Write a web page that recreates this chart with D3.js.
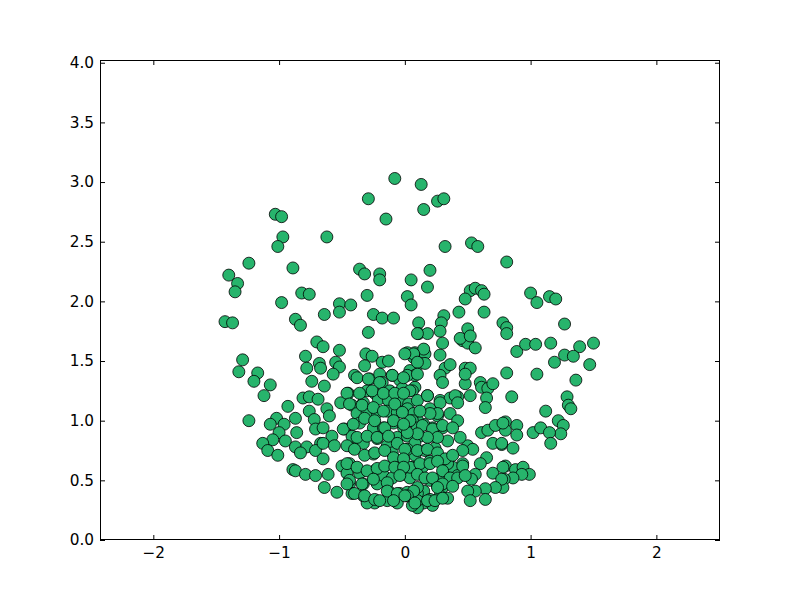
<!DOCTYPE html>
<html>
<head>
<meta charset="utf-8">
<script src="https://cdn.jsdelivr.net/npm/d3@7"></script>
<style>
  html, body { margin: 0; padding: 0; background: #ffffff; }
  svg { display: block; }
</style>
</head>
<body>
<div id="chart"></div>
<script>
// scatter values (x, y pairs by index)
const xs = [
  -0.08, 0.13, -0.29, 0.26, 0.31, 0.15, -0.15, -1.03, -0.98, -0.97,
  -1.01, -0.62, 0.32, 0.53, 0.58, 0.81, -1.24, -1.40, -1.33, -1.35,
  -0.89, -0.36, -0.32, -0.20, -0.20, 0.05, 0.20, 0.18, -0.82, -0.76,
  -0.98, -0.52, -0.52, -0.43, -0.30, 0.02, 0.05, -0.64, -0.87, -0.83,
  -1.43, -1.37, -0.25, -0.18, -0.09, -0.29, 0.52, 0.56, 0.61, 0.63,
  0.48, 0.43, 0.63, 1.00, 1.05, 1.15, 1.20, 1.27, 0.31, 0.29,
  0.11, 0.50, 0.78, 0.81, 0.81, 0.89, 0.96, 1.04, 1.16, 1.39,
  1.50, 1.27, 1.34, 1.19, 1.47, 0.81, 1.05, 1.36, 0.85, 1.29,
  1.30, 1.32, 1.12, 1.22, 1.26, 1.24, 0.80, 0.80, 0.89, 0.89,
  1.02, 1.08, 1.15, 1.16, 0.77, 0.86, 0.80, 0.88, 0.94, 0.99,
  0.93, 0.86, 0.79, 0.78,
  0.11, 0.18, 0.28, 0.30, 0.28, 0.46, 0.50, 0.56, 0.44, 0.52,
  0.08, 0.16, 0.15, 0.12, 0.16, 0.07, 0.32, 0.36, 0.28, 0.30,
  0.48, 0.52, 0.48, 0.52, 0.60, 0.61, 0.66, 0.70, 0.65, 0.64,
  0.08, 0.06, 0.18, 0.28, 0.36, 0.42, 0.20, 0.26, 0.36, 0.42,
  0.30, 0.22, 0.15, 0.10, 0.12, 0.22, 0.61, 0.66, 0.72, 0.78,
  0.70, 0.77, 0.50, 0.54, 0.46, 0.65, 0.60, 0.56, 0.46, 0.38,
  0.34, 0.42, 0.53, 0.70, 0.78, 0.77, 0.72, 0.64, 0.64, 0.56,
  0.50, 0.52, 0.28, 0.20, 0.26, 0.30, 0.15, 0.10, 0.20, 0.28,
  0.34, 0.22, 0.15, 0.10, 0.08, 0.16, 0.24, 0.20, 0.14, 0.28,
  0.07,
  -1.29, -1.32, -1.17, -1.20, -1.07, -1.12, -1.24, -0.93, -0.70, -0.65,
  -0.79, -0.78, -0.68, -0.67, -0.74, -0.64, -0.81, -0.76, -0.69, -0.76,
  -0.87, -0.72, -1.02, -1.07, -0.96, -1.00, -1.05, -1.13, -1.09, -1.01,
  -0.95, -0.86, -0.87, -0.78, -0.83, -0.71, -0.65, -0.67, -0.71, -0.65,
  -0.89, -0.87, -0.79, -0.71, -0.64, -0.61,
  -0.52, -0.55, -0.52, -0.57, -0.45, -0.51, -0.62, -0.60, -0.31, -0.26,
  -0.32, -0.18, -0.13, 0.02, 0.07, 0.10, -0.40, -0.28, -0.20, -0.10,
  -0.04, 0.04, 0.08, 0.10, 0.00, -0.30, -0.24, -0.18, -0.12, -0.02,
  0.04, -0.33, -0.21, -0.13, -0.04, 0.03, 0.10, -0.42, -0.38, -0.30,
  -0.22, -0.14, -0.06, 0.02, 0.07, -0.48, -0.42, -0.36, -0.25, -0.17,
  -0.09, -0.01, 0.06, 0.10, -0.58, -0.65, -0.56, -0.41, -0.33, -0.22,
  -0.14, -0.06, 0.02, 0.08, -0.25, -0.10, 0.02, -0.04, -0.50, -0.44,
  -0.46, -0.36, -0.24, -0.33, -0.22, -0.17, -0.10, -0.02, 0.06, 0.04,
  0.10, -0.54, -0.44, -0.42, -0.33, -0.24, -0.30, -0.13, -0.04, 0.02,
  0.10, -0.06, -0.14, 0.06,
  0.02, 0.10, 0.18, 0.48, 0.40, 0.42, 0.28, 0.26, 0.20, 0.12,
  0.04, 0.14, 0.22, 0.30, 0.38, 0.44, 0.34, 0.26, 0.18, 0.10,
  0.02, 0.10, 0.18, 0.26, 0.32, 0.38, 0.46, 0.04, 0.12, 0.20,
  0.26, 0.10, 0.16, 0.22, 0.30, 0.36, 0.42, 0.48, 0.30, 0.38,
  0.26, 0.07, 0.02, 0.08, 0.18, 0.24, 0.30,
  -0.46, -0.38, -0.29, -0.20, -0.10, -0.01, -0.36, -0.26, -0.17, -0.08,
  -0.01, -0.44, -0.34, -0.25, -0.17, -0.08, -0.02, -0.49, -0.41, -0.32,
  -0.24, -0.16, -0.09, -0.01, -0.38, -0.30, -0.22, -0.13, -0.06, 0.00,
  -0.46, -0.40, -0.32, -0.24, -0.16, -0.09, -0.01, -0.46, -0.38, -0.30,
  -0.22, -0.16, -0.08, -0.01, -0.44, -0.34, -0.25, -0.14, -0.04, -0.46,
  -0.40, -0.32, -0.24, -0.14, -0.06, 0.00, -0.20, -0.09
];

const ys = [
  3.03, 2.98, 2.86, 2.84, 2.86, 2.77, 2.69, 2.73, 2.71, 2.54,
  2.46, 2.54, 2.46, 2.49, 2.46, 2.33, 2.32, 2.22, 2.15, 2.08,
  2.28, 2.27, 2.23, 2.23, 2.18, 2.18, 2.26, 2.12, 2.07, 2.06,
  1.99, 1.98, 1.91, 1.97, 2.05, 2.04, 1.97, 1.89, 1.85, 1.80,
  1.83, 1.82, 1.89, 1.86, 1.86, 1.74, 2.09, 2.11, 2.09, 2.06,
  2.02, 1.91, 1.91, 2.07, 1.99, 2.04, 2.02, 1.81, 1.88, 1.82,
  1.82, 1.77, 1.82, 1.78, 1.73, 1.58, 1.64, 1.64, 1.65, 1.62,
  1.65, 1.55, 1.54, 1.49, 1.47, 1.40, 1.39, 1.34, 1.20, 1.20,
  1.13, 1.10, 1.08, 1.00, 0.96, 0.89, 0.99, 0.92, 0.96, 0.88,
  0.90, 0.94, 0.90, 0.81, 0.80, 0.77, 0.62, 0.59, 0.61, 0.55,
  0.55, 0.52, 0.51, 0.44,
  1.73, 1.73, 1.75, 1.65, 1.55, 1.67, 1.65, 1.61, 1.69, 1.71,
  1.57, 1.56, 1.60, 1.48, 1.48, 1.53, 1.44, 1.47, 1.38, 1.32,
  1.44, 1.44, 1.31, 1.21, 1.32, 1.28, 1.27, 1.31, 1.19, 1.11,
  1.28, 1.25, 1.21, 1.17, 1.19, 1.20, 1.10, 1.04, 1.06, 1.00,
  0.94, 0.94, 0.97, 1.00, 0.87, 0.87, 0.90, 0.92, 0.96, 0.98,
  0.81, 0.81, 0.79, 0.76, 0.75, 0.69, 0.64, 0.55, 0.64, 0.61,
  0.64, 0.54, 0.51, 0.56, 0.61, 0.51, 0.44, 0.43, 0.34, 0.41,
  0.41, 0.33, 0.52, 0.50, 0.45, 0.44, 0.41, 0.39, 0.34, 0.37,
  0.35, 0.29, 0.31, 0.27, 0.71, 0.75, 0.77, 0.66, 0.61, 0.66,
  0.60,
  1.51, 1.41, 1.40, 1.33, 1.30, 1.21, 1.00, 1.12, 1.66, 1.62,
  1.54, 1.44, 1.48, 1.44, 1.33, 1.29, 1.19, 1.20, 1.18, 1.08,
  1.02, 1.01, 1.02, 0.97, 0.97, 0.90, 0.84, 0.81, 0.75, 0.71,
  0.83, 0.90, 0.78, 0.78, 0.73, 0.93, 0.94, 0.81, 0.75, 0.68,
  0.59, 0.58, 0.55, 0.54, 0.44, 0.55,
  1.59, 1.49, 1.45, 1.39, 1.23, 1.15, 1.10, 1.04, 1.56, 1.54,
  1.46, 1.49, 1.50, 1.57, 1.56, 1.73, 1.38, 1.35, 1.39, 1.38,
  1.34, 1.42, 1.38, 1.49, 1.56, 1.25, 1.23, 1.32, 1.25, 1.27,
  1.25, 1.15, 1.18, 1.17, 1.17, 1.14, 1.17, 1.13, 1.06, 1.07,
  1.07, 1.08, 1.07, 1.10, 1.06, 0.93, 0.87, 0.98, 0.94, 0.94,
  0.98, 0.94, 1.00, 0.94, 0.87, 0.81, 0.79, 0.77, 0.81, 0.85,
  0.79, 0.86, 0.87, 0.81, 0.72, 0.73, 0.76, 0.66, 0.62, 0.64,
  0.56, 0.56, 0.58, 0.47, 0.47, 0.54, 0.52, 0.55, 0.61, 0.52,
  0.44, 0.40, 0.47, 0.39, 0.37, 0.31, 0.31, 0.41, 0.39, 0.40,
  0.33, 0.31, 0.33, 0.29,
  1.38, 1.39, 1.21, 1.39, 1.21, 1.15, 1.15, 1.06, 1.06, 1.08,
  1.00, 0.96, 0.93, 0.96, 0.94, 0.86, 0.83, 0.86, 0.86, 0.89,
  0.90, 0.75, 0.76, 0.73, 0.68, 0.71, 0.62, 0.61, 0.64, 0.64,
  0.66, 0.55, 0.52, 0.52, 0.58, 0.52, 0.52, 0.54, 0.47, 0.45,
  0.44, 0.41, 0.37, 0.31, 0.33, 0.33, 0.35,
  1.23, 1.36, 1.35, 1.32, 1.38, 1.36, 1.23, 1.25, 1.23, 1.23,
  1.23, 1.14, 1.13, 1.11, 1.08, 1.14, 1.07, 0.93, 0.97, 1.02,
  1.00, 0.94, 1.00, 0.97, 0.86, 0.87, 0.86, 0.87, 0.81, 0.76,
  0.79, 0.76, 0.71, 0.73, 0.75, 0.69, 0.68, 0.64, 0.61, 0.58,
  0.60, 0.62, 0.61, 0.61, 0.50, 0.47, 0.51, 0.48, 0.54, 0.47,
  0.39, 0.37, 0.34, 0.41, 0.39, 0.37, 0.33, 0.33
];

const xTicks = [-2, -1, 0, 1, 2];
const yTicks = [0, 0.5, 1, 1.5, 2, 2.5, 3, 3.5, 4];

const width = 800;
const height = 600;
const plot = { left: 100, right: 720, top: 60, bottom: 540 };

const svg = d3.select('#chart')
    .append('svg')
    .attr('width', width)
    .attr('height', height)
    .style('background-color', '#ffffff')
    .style('font-family', '"DejaVu Sans", sans-serif');

const x = d3.scaleLinear().domain([-2.424, 2.506]).range([plot.left, plot.right]);
const y = d3.scaleLinear().domain([0, 4.023]).range([plot.bottom, plot.top]);

// points
const points = d3.range(Math.min(xs.length, ys.length)).map(i => ({ x: xs[i], y: ys[i] }));

svg.append('g')
    .attr('id', 'points-layer')
    .selectAll('circle')
    .data(points)
    .enter()
    .append('circle')
    .attr('cx', d => x(d.x))
    .attr('cy', d => y(d.y))
    .attr('r', 6)
    .attr('fill', '#27b46c')
    .attr('stroke', '#000000')
    .attr('stroke-width', 0.8);

// axes, ticks pointing inward like the classic style
const fontSize = '15.3px';

const bottomAxis = svg.append('g')
    .attr('transform', `translate(0,${plot.bottom})`)
    .call(d3.axisBottom(x).tickValues(xTicks).tickSize(-5).tickPadding(7).tickFormat(d3.format('d')));

const leftAxis = svg.append('g')
    .attr('transform', `translate(${plot.left},0)`)
    .call(d3.axisLeft(y).tickValues(yTicks).tickSize(-5).tickPadding(6).tickFormat(d3.format('.1f')));

const topAxis = svg.append('g')
    .attr('transform', `translate(0,${plot.top})`)
    .call(d3.axisTop(x).tickValues(xTicks).tickSize(-5).tickFormat(''));

const rightAxis = svg.append('g')
    .attr('transform', `translate(${plot.right},0)`)
    .call(d3.axisRight(y).tickValues(yTicks).tickSize(-5).tickFormat(''));

[bottomAxis, leftAxis, topAxis, rightAxis].forEach(g => {
    g.select('.domain').remove();
    g.selectAll('.tick line').attr('stroke', '#000000');
    g.selectAll('.tick text')
        .attr('fill', '#000000')
        .style('font-size', fontSize)
        .style('font-family', '"DejaVu Sans", sans-serif');
});

// axes frame
svg.append('rect')
    .attr('x', plot.left + 0.5)
    .attr('y', plot.top + 0.5)
    .attr('width', plot.right - plot.left - 1)
    .attr('height', plot.bottom - plot.top - 1)
    .attr('fill', 'none')
    .attr('stroke', '#000000')
    .attr('stroke-width', 1);
</script>
</body>
</html>
